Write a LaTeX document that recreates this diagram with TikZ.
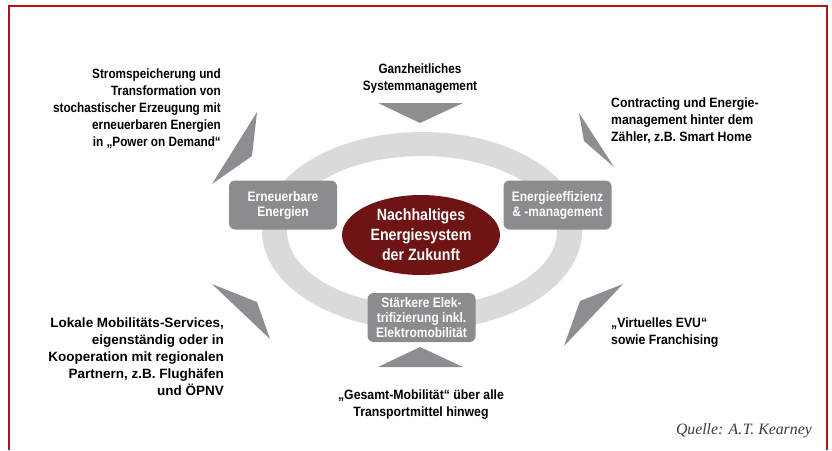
\documentclass[tikz,border=0pt]{standalone}
\usepackage{fontspec}
\newfontfamily\condbold{Liberation Sans Bold}[FakeStretch=0.87]
\newfontfamily\midbold{Liberation Sans Bold}[FakeStretch=0.91]
\newfontfamily\widebold{Liberation Sans Bold}[FakeStretch=1.0]
\newfontfamily\quellefont{Liberation Serif Italic}
\usetikzlibrary{shapes.geometric}
\definecolor{framered}{RGB}{168,22,22}
\definecolor{ringgray}{RGB}{218,218,219}
\definecolor{boxgray}{RGB}{140,140,143}
\definecolor{arrowgray}{RGB}{142,142,146}
\definecolor{coredark}{RGB}{110,20,20}
\definecolor{quellegray}{RGB}{60,60,60}
\tikzset{
  lbl/.style={inner sep=0pt, font=\condbold\fontsize{13.5}{16.8}\selectfont, text=black},
  lblmid/.style={lbl, font=\midbold\fontsize{13.5}{16.8}\selectfont},
  lblwide/.style={lbl, font=\widebold\fontsize{13.5}{16.8}\selectfont},
  pillar/.style={fill=boxgray, rounded corners=6pt, minimum width=108pt, minimum height=49pt,
    inner sep=0pt, align=center, text=white, font=\condbold\fontsize{13.8}{15}\selectfont},
  wedge/.style={fill=arrowgray, draw=none},
}
\begin{document}
\begin{tikzpicture}[x=1pt,y=-1pt]
\useasboundingbox (0,0) rectangle (832,450);
% frame, open at the bottom
\draw[framered, line width=2pt] (9,450) -- (9,6) -- (827,6) -- (827,450);

% ring
\fill[ringgray, even odd rule] (422,231) ellipse [x radius=160, y radius=99]
  (422,231) ellipse [x radius=135, y radius=75];

% core
\node[ellipse, fill=coredark, minimum width=158pt, minimum height=80pt, inner sep=0pt,
  align=center, text=white, font=\condbold\fontsize{16.3}{20}\selectfont] (core) at (421,235)
  {Nachhaltiges\\Energiesystem\\der Zukunft};

% pillars
\node[pillar] (ee) at (283,205) {Erneuerbare\\Energien};
\node[pillar] (eff) at (557.5,205) {Energieeffizienz\\\& -management};
\node[pillar] (elek) at (421.5,317.5) {Stärkere Elek-\\trifizierung inkl.\\Elektromobilität};

% wedges
\fill[wedge] (378,103) -- (463,103) -- (420,123) -- cycle;
\fill[wedge] (378,367) -- (463,367) -- (420,347) -- cycle;
\fill[wedge] (257,112) -- (252,156) -- (212,184) -- cycle;
\fill[wedge] (579,113) -- (584,141) -- (614,167) -- cycle;
\fill[wedge] (212,284) -- (257,302) -- (270,339) -- cycle;
\fill[wedge] (623,284) -- (580,301) -- (564,346) -- cycle;

% labels
\node[lbl, anchor=north, align=center] (tl) at (420,64) {Ganzheitliches\\Systemmanagement};
\node[lbl, anchor=north east, align=right] (lt) at (221,69)
  {Stromspeicherung und\\Transformation von\\stochastischer Erzeugung mit\\erneuerbaren Energien\\in „Power on Demand“};
\node[lblmid, anchor=north west, align=left] (rt) at (611,98)
  {Contracting und Energie-\\management hinter dem\\Zähler, z.B. Smart Home};
\node[lblwide, anchor=north east, align=right] (lb) at (224,318)
  {Lokale Mobilitäts-Services,\\eigenständig oder in\\Kooperation mit regionalen\\Partnern, z.B. Flughäfen\\und ÖPNV};
\node[lblmid, anchor=north west, align=left] (rb) at (611,318)
  {„Virtuelles EVU“\\sowie Franchising};
\node[lblmid, anchor=north, align=center] (bt) at (421,390)
  {„Gesamt-Mobilität“ über alle\\Transportmittel hinweg};

% source
\node[anchor=base east, inner sep=0pt, text=quellegray, font=\quellefont\fontsize{15.8}{18}\selectfont]
  (src) at (812,434) {Quelle: A.\kern0.5pt T. Kearney};
\end{tikzpicture}
\end{document}
